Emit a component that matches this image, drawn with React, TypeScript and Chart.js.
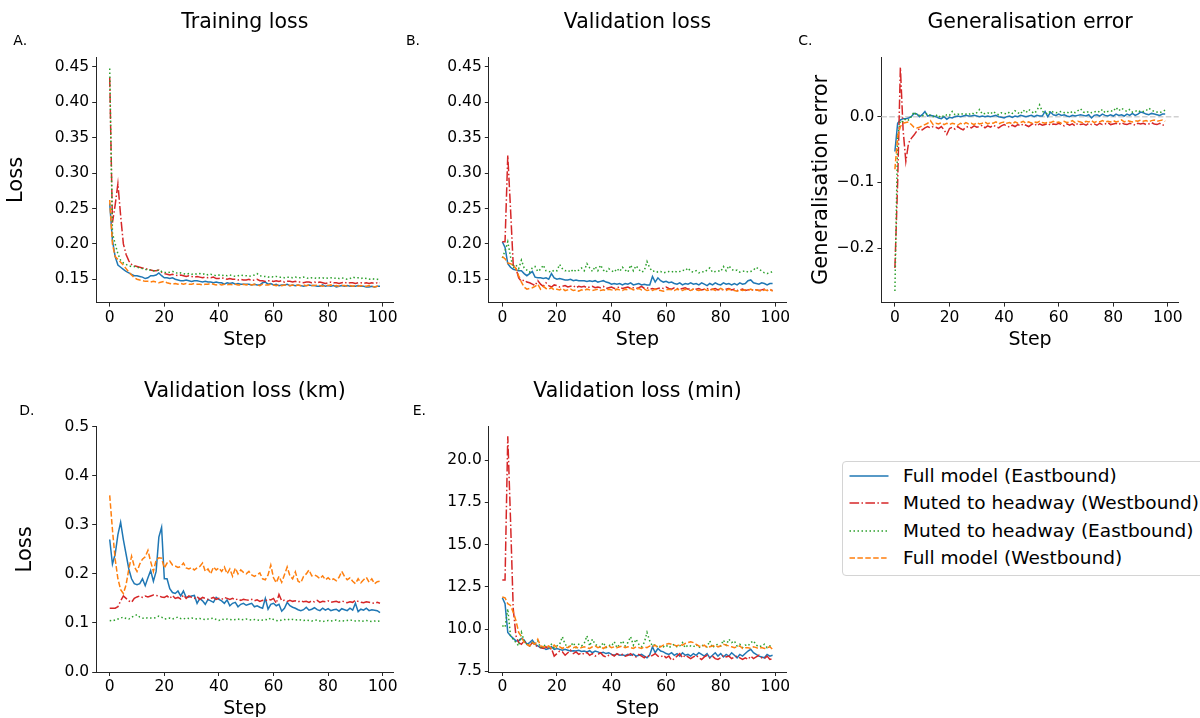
import React, { useEffect, useRef } from "react";
import { Chart, registerables } from "chart.js";

Chart.register(...registerables);
Chart.defaults.font.family = '"DejaVu Sans", sans-serif';

// ---------------- data ----------------
const STEPS = Array.from({ length: 100 }, (_, i) => i);
const SERIES_LABELS = [
  "Full model (Eastbound)",
  "Muted to headway (Westbound)",
  "Muted to headway (Eastbound)",
  "Full model (Westbound)",
];
const X_TICKS = [0, 20, 40, 60, 80, 100];
const LOSS_TICKS = [0.15, 0.2, 0.25, 0.3, 0.35, 0.4, 0.45];
const GEN_TICKS = [-0.2, -0.1, 0.0];
const KM_TICKS = [0.0, 0.1, 0.2, 0.3, 0.4, 0.5];
const MIN_TICKS = [7.5, 10.0, 12.5, 15.0, 17.5, 20.0];

// A. Training loss
const TRAIN_FULL_EAST = [
  0.257, 0.205, 0.182, 0.170, 0.167, 0.164, 0.161, 0.159, 0.157, 0.155,
  0.155, 0.154, 0.153, 0.151, 0.152, 0.155, 0.155, 0.156, 0.159, 0.155,
  0.152, 0.152, 0.151, 0.152, 0.150, 0.149, 0.148, 0.148, 0.149, 0.148,
  0.147, 0.148, 0.148, 0.147, 0.146, 0.147, 0.146, 0.146, 0.145, 0.146,
  0.145, 0.145, 0.143, 0.145, 0.144, 0.145, 0.143, 0.144, 0.143, 0.143,
  0.143, 0.143, 0.142, 0.143, 0.142, 0.142, 0.145, 0.146, 0.143, 0.144,
  0.142, 0.143, 0.141, 0.142, 0.142, 0.143, 0.141, 0.142, 0.141, 0.142,
  0.141, 0.140, 0.141, 0.142, 0.141, 0.141, 0.140, 0.140, 0.142, 0.140,
  0.141, 0.140, 0.141, 0.139, 0.140, 0.141, 0.140, 0.141, 0.140, 0.140,
  0.140, 0.141, 0.140, 0.140, 0.139, 0.139, 0.140, 0.139, 0.140, 0.140,
];
const TRAIN_MUTED_WEST = [
  0.435, 0.230, 0.255, 0.285, 0.240, 0.200, 0.185, 0.176, 0.171, 0.169,
  0.168, 0.167, 0.166, 0.165, 0.164, 0.163, 0.162, 0.162, 0.163, 0.160,
  0.158, 0.157, 0.156, 0.157, 0.156, 0.155, 0.156, 0.155, 0.154, 0.155,
  0.154, 0.153, 0.154, 0.153, 0.152, 0.153, 0.152, 0.152, 0.153, 0.151,
  0.151, 0.152, 0.151, 0.150, 0.151, 0.150, 0.150, 0.149, 0.150, 0.149,
  0.149, 0.150, 0.148, 0.149, 0.150, 0.148, 0.148, 0.147, 0.148, 0.148,
  0.147, 0.148, 0.147, 0.148, 0.146, 0.147, 0.147, 0.146, 0.147, 0.146,
  0.146, 0.145, 0.146, 0.146, 0.145, 0.146, 0.145, 0.146, 0.145, 0.144,
  0.145, 0.146, 0.145, 0.145, 0.144, 0.145, 0.146, 0.144, 0.145, 0.145,
  0.144, 0.145, 0.145, 0.144, 0.145, 0.144, 0.145, 0.144, 0.145, 0.145,
];
const TRAIN_MUTED_EAST = [
  0.448, 0.215, 0.200, 0.186, 0.177, 0.173, 0.171, 0.169, 0.168, 0.168,
  0.167, 0.166, 0.165, 0.164, 0.163, 0.163, 0.162, 0.162, 0.163, 0.161,
  0.160, 0.159, 0.160, 0.161, 0.160, 0.158, 0.159, 0.158, 0.157, 0.158,
  0.157, 0.158, 0.157, 0.158, 0.157, 0.158, 0.156, 0.157, 0.156, 0.155,
  0.156, 0.155, 0.156, 0.155, 0.156, 0.155, 0.154, 0.155, 0.156, 0.155,
  0.155, 0.154, 0.155, 0.156, 0.158, 0.155, 0.154, 0.154, 0.153, 0.154,
  0.153, 0.154, 0.153, 0.153, 0.152, 0.153, 0.153, 0.152, 0.153, 0.152,
  0.152, 0.153, 0.152, 0.151, 0.152, 0.152, 0.151, 0.152, 0.152, 0.151,
  0.152, 0.152, 0.151, 0.152, 0.151, 0.152, 0.151, 0.150, 0.151, 0.153,
  0.152, 0.152, 0.151, 0.152, 0.151, 0.150, 0.151, 0.150, 0.150, 0.149,
];
const TRAIN_FULL_WEST = [
  0.262, 0.200, 0.182, 0.178, 0.174, 0.170, 0.165, 0.160, 0.156, 0.152,
  0.150, 0.149, 0.148, 0.147, 0.147, 0.146, 0.147, 0.146, 0.145, 0.146,
  0.147, 0.145, 0.144, 0.143, 0.144, 0.143, 0.144, 0.143, 0.144, 0.143,
  0.143, 0.144, 0.143, 0.143, 0.142, 0.143, 0.143, 0.144, 0.143, 0.142,
  0.143, 0.142, 0.143, 0.142, 0.143, 0.142, 0.143, 0.142, 0.142, 0.143,
  0.142, 0.143, 0.142, 0.143, 0.142, 0.141, 0.143, 0.142, 0.142, 0.143,
  0.142, 0.141, 0.142, 0.141, 0.142, 0.142, 0.141, 0.142, 0.141, 0.142,
  0.141, 0.142, 0.141, 0.142, 0.141, 0.141, 0.142, 0.141, 0.140, 0.141,
  0.141, 0.142, 0.140, 0.141, 0.140, 0.141, 0.141, 0.140, 0.141, 0.140,
  0.141, 0.140, 0.141, 0.140, 0.140, 0.141, 0.140, 0.139, 0.140, 0.140,
];

// B. Validation loss
const VAL_FULL_EAST = [
  0.203, 0.195, 0.172, 0.167, 0.164, 0.163, 0.162, 0.162, 0.158, 0.155,
  0.158, 0.161, 0.153, 0.152, 0.152, 0.151, 0.152, 0.150, 0.158, 0.152,
  0.150, 0.151, 0.150, 0.149, 0.149, 0.150, 0.148, 0.149, 0.148, 0.148,
  0.148, 0.147, 0.148, 0.147, 0.148, 0.146, 0.147, 0.148, 0.146, 0.145,
  0.143, 0.144, 0.143, 0.144, 0.142, 0.144, 0.143, 0.145, 0.142, 0.143,
  0.144, 0.142, 0.143, 0.142, 0.142, 0.154, 0.146, 0.152, 0.148, 0.146,
  0.147, 0.145, 0.146, 0.144, 0.143, 0.145, 0.142, 0.144, 0.143, 0.145,
  0.143, 0.144, 0.142, 0.145, 0.143, 0.141, 0.144, 0.142, 0.145, 0.143,
  0.142, 0.145, 0.143, 0.144, 0.142, 0.144, 0.142, 0.145, 0.143, 0.144,
  0.148, 0.149, 0.145, 0.144, 0.143, 0.145, 0.144, 0.142, 0.144, 0.144,
];
const VAL_MUTED_WEST = [
  0.203, 0.203, 0.325, 0.250, 0.170, 0.165, 0.152, 0.147, 0.149, 0.146,
  0.145, 0.143, 0.141, 0.148, 0.143, 0.140, 0.145, 0.141, 0.139, 0.142,
  0.141, 0.139, 0.140, 0.141, 0.139, 0.140, 0.141, 0.138, 0.140, 0.139,
  0.140, 0.138, 0.139, 0.140, 0.138, 0.139, 0.138, 0.140, 0.137, 0.138,
  0.139, 0.137, 0.138, 0.139, 0.137, 0.138, 0.139, 0.137, 0.138, 0.137,
  0.138, 0.140, 0.137, 0.138, 0.136, 0.137, 0.136, 0.137, 0.138, 0.137,
  0.139, 0.137, 0.136, 0.138, 0.137, 0.136, 0.137, 0.138, 0.136, 0.137,
  0.135, 0.136, 0.137, 0.135, 0.136, 0.137, 0.135, 0.136, 0.137, 0.135,
  0.136, 0.135, 0.136, 0.137, 0.135, 0.136, 0.134, 0.135, 0.136, 0.134,
  0.135, 0.136, 0.134, 0.135, 0.134, 0.135, 0.136, 0.134, 0.135, 0.134,
];
const VAL_MUTED_EAST = [
  0.180, 0.190, 0.203, 0.182, 0.166, 0.170, 0.165, 0.177, 0.166, 0.163,
  0.160, 0.166, 0.168, 0.161, 0.164, 0.170, 0.162, 0.161, 0.160, 0.163,
  0.162, 0.171, 0.165, 0.162, 0.163, 0.160, 0.164, 0.161, 0.163, 0.166,
  0.162, 0.172, 0.166, 0.161, 0.168, 0.162, 0.170, 0.163, 0.160, 0.165,
  0.162, 0.160, 0.165, 0.161, 0.167, 0.163, 0.160, 0.170, 0.162, 0.169,
  0.164, 0.160, 0.162, 0.175, 0.166, 0.161, 0.162, 0.160, 0.161, 0.159,
  0.160, 0.161, 0.160, 0.162, 0.160, 0.161, 0.163, 0.162, 0.166, 0.161,
  0.160, 0.162, 0.159, 0.161, 0.160, 0.163, 0.166, 0.160, 0.161, 0.162,
  0.161, 0.168, 0.162, 0.169, 0.164, 0.162, 0.163, 0.160, 0.161, 0.162,
  0.160, 0.161, 0.163, 0.167, 0.164, 0.162, 0.159, 0.158, 0.159, 0.161,
];
const VAL_FULL_WEST = [
  0.182, 0.179, 0.173, 0.172, 0.170, 0.165, 0.155, 0.146, 0.139, 0.136,
  0.137, 0.138, 0.140, 0.143, 0.136, 0.140, 0.137, 0.136, 0.138, 0.135,
  0.136, 0.135, 0.137, 0.134, 0.135, 0.136, 0.134, 0.135, 0.133, 0.135,
  0.134, 0.136, 0.135, 0.134, 0.135, 0.136, 0.134, 0.135, 0.134, 0.136,
  0.135, 0.134, 0.136, 0.135, 0.134, 0.136, 0.135, 0.137, 0.135, 0.136,
  0.137, 0.135, 0.136, 0.134, 0.135, 0.134, 0.136, 0.135, 0.134, 0.133,
  0.135, 0.136, 0.135, 0.134, 0.136, 0.135, 0.134, 0.136, 0.135, 0.134,
  0.136, 0.135, 0.134, 0.135, 0.136, 0.134, 0.135, 0.136, 0.134, 0.135,
  0.137, 0.135, 0.134, 0.136, 0.135, 0.134, 0.133, 0.135, 0.134, 0.135,
  0.134, 0.136, 0.134, 0.135, 0.134, 0.133, 0.135, 0.134, 0.136, 0.133,
];

// C. Generalisation error
const GEN_FULL_EAST = [
  -0.053, -0.010, -0.005, -0.003, -0.003, -0.002, 0.000, 0.005, 0.004, 0.000,
  0.003, 0.008, 0.001, 0.002, 0.001, 0.000, -0.002, -0.003, 0.000, -0.004,
  -0.001, -0.002, 0.000, 0.001, 0.000, 0.001, 0.002, 0.001, 0.001, 0.002,
  0.001, 0.000, 0.001, 0.000, 0.001, 0.000, 0.001, 0.002, 0.000, -0.001,
  -0.002, 0.000, 0.001, -0.001, 0.001, 0.000, 0.002, 0.001, 0.000, 0.001,
  0.002, 0.000, 0.002, 0.001, 0.001, 0.008, 0.000, 0.007, 0.003, 0.002,
  0.004, 0.002, 0.003, 0.001, 0.000, 0.002, 0.001, 0.002, 0.003, 0.002,
  0.001, 0.003, -0.002, 0.002, 0.003, 0.001, 0.004, 0.002, 0.001, 0.003,
  0.001, 0.004, 0.002, 0.003, 0.001, 0.004, 0.002, 0.005, 0.002, 0.004,
  0.007, 0.006, 0.004, 0.003, 0.005, 0.004, 0.003, 0.002, 0.004, 0.004,
];
const GEN_MUTED_WEST = [
  -0.230, -0.100, 0.075, -0.020, -0.068, -0.040, -0.033, -0.028, -0.022, -0.018,
  -0.020, -0.017, -0.015, -0.017, -0.015, -0.016, -0.018, -0.015, -0.020, -0.027,
  -0.018, -0.016, -0.019, -0.015, -0.018, -0.020, -0.016, -0.015, -0.017, -0.014,
  -0.016, -0.015, -0.013, -0.017, -0.014, -0.016, -0.013, -0.015, -0.017, -0.014,
  -0.012, -0.014, -0.016, -0.013, -0.015, -0.012, -0.014, -0.011, -0.013, -0.015,
  -0.012, -0.010, -0.014, -0.011, -0.013, -0.012, -0.010, -0.013, -0.011, -0.012,
  -0.010, -0.012, -0.014, -0.011, -0.013, -0.011, -0.014, -0.010, -0.012, -0.011,
  -0.013, -0.010, -0.012, -0.011, -0.013, -0.010, -0.012, -0.011, -0.009, -0.012,
  -0.011, -0.010, -0.012, -0.009, -0.011, -0.012, -0.010, -0.011, -0.013, -0.010,
  -0.011, -0.010, -0.012, -0.011, -0.009, -0.011, -0.012, -0.010, -0.013, -0.012,
];
const GEN_MUTED_EAST = [
  -0.265, -0.030, -0.006, -0.008, -0.003, -0.005, 0.000, 0.007, 0.003, 0.002,
  0.001, 0.003, 0.005, 0.002, 0.000, 0.003, -0.001, 0.002, 0.000, 0.003,
  0.002, 0.008, 0.003, 0.004, 0.003, 0.005, 0.004, 0.003, 0.006, 0.004,
  0.006, 0.011, 0.004, 0.005, 0.006, 0.004, 0.008, 0.005, 0.003, 0.006,
  0.005, 0.004, 0.007, 0.005, 0.009, 0.006, 0.004, 0.010, 0.006, 0.011,
  0.008, 0.005, 0.009, 0.018, 0.008, 0.006, 0.004, 0.009, 0.007, 0.006,
  0.007, 0.008, 0.006, 0.007, 0.005, 0.008, 0.006, 0.009, 0.012, 0.007,
  0.006, 0.008, 0.006, 0.007, 0.009, 0.007, 0.011, 0.006, 0.008, 0.009,
  0.008, 0.014, 0.009, 0.013, 0.010, 0.008, 0.011, 0.007, 0.008, 0.010,
  0.007, 0.008, 0.009, 0.013, 0.010, 0.008, 0.007, 0.006, 0.008, 0.010,
];
const GEN_FULL_WEST = [
  -0.080, -0.030, -0.015, -0.010, -0.009, -0.008, -0.012, -0.016, -0.017, -0.016,
  -0.014, -0.012, -0.010, -0.006, -0.012, -0.010, -0.011, -0.009, -0.012, -0.010,
  -0.012, -0.010, -0.011, -0.013, -0.010, -0.012, -0.009, -0.011, -0.010, -0.012,
  -0.009, -0.011, -0.010, -0.008, -0.011, -0.009, -0.010, -0.008, -0.011, -0.009,
  -0.008, -0.010, -0.009, -0.011, -0.008, -0.010, -0.009, -0.007, -0.010, -0.008,
  -0.010, -0.008, -0.009, -0.007, -0.009, -0.010, -0.008, -0.009, -0.007, -0.009,
  -0.008, -0.010, -0.007, -0.009, -0.008, -0.006, -0.009, -0.007, -0.008, -0.010,
  -0.007, -0.008, -0.006, -0.009, -0.007, -0.008, -0.006, -0.008, -0.007, -0.008,
  -0.006, -0.008, -0.007, -0.005, -0.008, -0.006, -0.007, -0.008, -0.006, -0.007,
  -0.005, -0.007, -0.006, -0.008, -0.006, -0.005, -0.007, -0.006, -0.005, -0.007,
];

// D. Validation loss (km)
const KM_FULL_EAST = [
  0.270, 0.220, 0.240, 0.280, 0.305, 0.270, 0.240, 0.210, 0.190, 0.180,
  0.178, 0.180, 0.190, 0.176, 0.192, 0.207, 0.185, 0.205, 0.275, 0.295,
  0.190, 0.190, 0.170, 0.162, 0.160, 0.165, 0.155, 0.165, 0.152, 0.153,
  0.155, 0.156, 0.140, 0.150, 0.145, 0.138, 0.148, 0.145, 0.142, 0.152,
  0.148, 0.145, 0.140, 0.147, 0.135, 0.140, 0.142, 0.133, 0.138, 0.140,
  0.136, 0.138, 0.140, 0.133, 0.135, 0.132, 0.130, 0.150, 0.128, 0.138,
  0.140, 0.135, 0.138, 0.124, 0.130, 0.142, 0.135, 0.132, 0.130, 0.127,
  0.125, 0.127, 0.132, 0.126, 0.128, 0.131, 0.127, 0.125, 0.130, 0.126,
  0.129, 0.125, 0.127, 0.128, 0.124, 0.129, 0.127, 0.125, 0.130, 0.126,
  0.140, 0.123, 0.128, 0.126, 0.130, 0.125, 0.127, 0.126, 0.125, 0.121,
];
const KM_MUTED_WEST = [
  0.130, 0.130, 0.130, 0.133, 0.145, 0.155, 0.150, 0.145, 0.142, 0.150,
  0.153, 0.155, 0.152, 0.155, 0.153, 0.155, 0.157, 0.156, 0.155, 0.153,
  0.152, 0.155, 0.150, 0.156, 0.150, 0.152, 0.149, 0.157, 0.150, 0.155,
  0.152, 0.150, 0.154, 0.148, 0.152, 0.150, 0.148, 0.150, 0.152, 0.148,
  0.150, 0.148, 0.152, 0.150, 0.148, 0.150, 0.147, 0.149, 0.146, 0.148,
  0.147, 0.146, 0.148, 0.145, 0.147, 0.144, 0.146, 0.145, 0.148, 0.147,
  0.150, 0.140, 0.158, 0.145, 0.146, 0.144, 0.146, 0.144, 0.145, 0.143,
  0.145, 0.143, 0.144, 0.142, 0.145, 0.143, 0.146, 0.142, 0.144, 0.143,
  0.145, 0.142, 0.143, 0.144, 0.142, 0.145, 0.143, 0.141, 0.143, 0.142,
  0.146, 0.144, 0.142, 0.141, 0.143, 0.142, 0.141, 0.140, 0.142, 0.140,
];
const KM_MUTED_EAST = [
  0.105, 0.104, 0.106, 0.108, 0.110, 0.112, 0.109, 0.108, 0.112, 0.114,
  0.117, 0.112, 0.110, 0.109, 0.111, 0.110, 0.110, 0.111, 0.114, 0.112,
  0.108, 0.109, 0.110, 0.108, 0.110, 0.112, 0.109, 0.108, 0.110, 0.109,
  0.110, 0.109, 0.108, 0.109, 0.108, 0.107, 0.108, 0.109, 0.110, 0.107,
  0.105, 0.108, 0.107, 0.108, 0.107, 0.106, 0.107, 0.108, 0.106, 0.107,
  0.108, 0.107, 0.106, 0.107, 0.106, 0.105, 0.106, 0.107, 0.106, 0.110,
  0.107, 0.105, 0.104, 0.106, 0.107, 0.106, 0.108, 0.107, 0.106, 0.107,
  0.106, 0.105, 0.106, 0.105, 0.104, 0.105, 0.106, 0.104, 0.103, 0.104,
  0.105, 0.104, 0.105, 0.106, 0.104, 0.105, 0.104, 0.105, 0.106, 0.105,
  0.104, 0.105, 0.103, 0.104, 0.105, 0.104, 0.103, 0.104, 0.103, 0.104,
];
const KM_FULL_WEST = [
  0.360, 0.290, 0.230, 0.190, 0.168, 0.160, 0.178, 0.210, 0.236, 0.215,
  0.205, 0.220, 0.230, 0.235, 0.248, 0.225, 0.205, 0.228, 0.233, 0.232,
  0.212, 0.222, 0.226, 0.218, 0.216, 0.213, 0.215, 0.222, 0.212, 0.210,
  0.213, 0.208, 0.212, 0.215, 0.222, 0.205, 0.210, 0.200, 0.214, 0.208,
  0.212, 0.205, 0.214, 0.200, 0.210, 0.195, 0.212, 0.200, 0.208, 0.203,
  0.200, 0.205, 0.198, 0.195, 0.198, 0.202, 0.190, 0.188, 0.198, 0.218,
  0.192, 0.182, 0.195, 0.183, 0.198, 0.214, 0.196, 0.190, 0.204, 0.185,
  0.182, 0.195, 0.200, 0.208, 0.196, 0.198, 0.195, 0.190, 0.196, 0.188,
  0.192, 0.187, 0.190, 0.186, 0.193, 0.205, 0.195, 0.188, 0.192, 0.185,
  0.180, 0.190, 0.182, 0.188, 0.193, 0.183, 0.190, 0.180, 0.184, 0.185,
];

// E. Validation loss (min)
const MIN_FULL_EAST = [
  11.85, 11.50, 9.80, 9.60, 9.45, 9.30, 9.30, 9.45, 9.35, 9.10,
  9.20, 9.35, 9.10, 9.00, 8.90, 8.90, 8.80, 8.85, 8.95, 8.80,
  8.85, 8.80, 8.75, 8.80, 8.75, 8.70, 8.72, 8.70, 8.75, 8.68,
  8.70, 8.65, 8.72, 8.60, 8.70, 8.65, 8.58, 8.62, 8.55, 8.60,
  8.50, 8.45, 8.52, 8.45, 8.48, 8.42, 8.50, 8.45, 8.52, 8.40,
  8.45, 8.50, 8.40, 8.30, 8.48, 8.95, 8.60, 8.85, 8.70, 8.65,
  8.55, 8.50, 8.60, 8.45, 8.55, 8.40, 8.60, 8.45, 8.50, 8.40,
  8.55, 8.45, 8.60, 8.50, 8.40, 8.55, 8.30, 8.45, 8.60, 8.40,
  8.55, 8.35, 8.50, 8.40, 8.60, 8.45, 8.30, 8.50, 8.40, 8.55,
  8.70, 8.80, 8.60, 8.50, 8.40, 8.35, 8.30, 8.50, 8.40, 8.45,
];
const MIN_MUTED_WEST = [
  12.90, 12.90, 21.40, 16.50, 11.20, 9.60, 9.20, 9.10, 9.30, 9.10,
  9.00, 9.20, 9.05, 8.95, 8.90, 8.85, 8.95, 8.80, 8.85, 8.40,
  8.55, 8.70, 8.65, 8.45, 8.60, 8.75, 8.55, 8.65, 8.50, 8.60,
  8.50, 8.62, 8.45, 8.55, 8.40, 8.50, 8.60, 8.42, 8.35, 8.45,
  8.50, 8.40, 8.55, 8.45, 8.50, 8.40, 8.45, 8.55, 8.40, 8.35,
  8.50, 8.40, 8.30, 8.45, 8.35, 8.45, 8.55, 8.40, 8.35, 8.45,
  8.30, 8.40, 8.15, 8.25, 8.40, 8.55, 8.30, 8.45, 8.35, 8.25,
  8.35, 8.45, 8.30, 8.20, 8.35, 8.45, 8.30, 8.40, 8.25, 8.20,
  8.30, 8.45, 8.35, 8.40, 8.25, 8.35, 8.40, 8.30, 8.20, 8.30,
  8.20, 8.40, 8.25, 8.35, 8.45, 8.30, 8.25, 8.40, 8.20, 8.25,
];
const MIN_MUTED_EAST = [
  10.20, 10.10, 11.20, 9.60, 9.40, 9.20, 9.00, 9.80, 9.30, 9.10,
  9.00, 9.20, 9.10, 9.30, 8.90, 9.05, 9.00, 8.95, 9.10, 8.90,
  9.00, 9.10, 9.55, 9.10, 8.95, 9.00, 9.20, 8.90, 9.10, 9.00,
  9.15, 9.60, 9.00, 9.40, 9.10, 9.00, 8.95, 9.20, 8.90, 9.05,
  9.00, 9.25, 8.90, 9.10, 9.30, 9.00, 9.20, 9.55, 9.05, 9.40,
  9.10, 8.95, 9.20, 9.80, 9.30, 9.00, 9.10, 8.90, 9.00, 8.95,
  9.05, 8.90, 9.00, 9.10, 8.95, 9.00, 9.20, 8.90, 9.05, 9.00,
  8.95, 9.10, 8.90, 9.05, 9.00, 8.95, 9.30, 8.90, 9.05, 9.10,
  9.00, 9.35, 9.05, 9.40, 9.20, 9.30, 9.00, 9.10, 8.90, 9.05,
  9.00, 9.20, 9.30, 9.05, 8.95, 9.00, 9.10, 8.90, 9.00, 9.05,
];
const MIN_FULL_WEST = [
  11.90, 11.85, 11.50, 11.40, 11.00, 10.50, 9.80, 9.55, 9.20, 9.10,
  9.00, 9.20, 9.10, 9.40, 9.00, 8.95, 8.90, 9.00, 8.85, 9.05,
  8.90, 8.95, 8.85, 8.95, 8.90, 9.00, 8.90, 8.95, 8.85, 8.90,
  8.95, 8.90, 8.85, 8.95, 9.00, 8.90, 8.95, 8.85, 8.95, 9.00,
  8.90, 8.95, 8.90, 8.95, 9.00, 8.90, 8.95, 8.90, 8.85, 8.95,
  8.90, 8.85, 8.95, 8.90, 9.00, 8.95, 9.05, 8.90, 8.95, 9.05,
  9.10, 9.15, 9.10, 9.05, 9.00, 9.10, 9.05, 9.15, 9.20, 9.25,
  9.20, 9.10, 9.00, 8.95, 9.05, 8.90, 8.95, 9.00, 9.05, 8.95,
  9.00, 9.10, 9.05, 9.00, 8.95, 8.90, 8.95, 9.00, 8.85, 8.90,
  8.90, 8.85, 8.95, 8.90, 8.85, 8.90, 8.85, 8.90, 8.95, 8.80,
];

// ---------------- styling ----------------
const COLORS = ["#1f77b4", "#d62728", "#2ca02c", "#ff7f0e"];
const DASHES: number[][] = [[], [9.6, 2.4, 1.5, 2.4], [1.5, 2.5], [5.5, 2.4]];
const ORDERS = [3, 2, 1, 0];
const FONT = '"DejaVu Sans", sans-serif';
const AXIS_COLOR = "#262626";

const CHART_W = 297.3;
const CHART_H = 245.3;
const X_AXIS_H = 45;
const CANVAS_W = 410;
const CANVAS_H = 348;

type PanelCfg = {
  left: number;
  top: number;
  padTop: number;
  yw: number;
  title: string;
  letter: string;
  letterX: number;
  letterY: number;
  titleY: number;
  series: number[][];
  yMin: number;
  yMax: number;
  yTicks: number[];
  yFmt: (v: number) => string;
  yLabel?: string;
  yLabelPad?: number;
  zeroLine?: boolean;
};

const fmt2 = (v: number) => v.toFixed(2);
const fmt1 = (v: number) => v.toFixed(1).replace("-", "\u2212");

const PANELS: PanelCfg[] = [
  {
    left: 0, top: 0, padTop: 57.3, yw: 96.2, title: "Training loss", letter: "A.",
    letterX: 13.3, letterY: 45, titleY: 28,
    series: [TRAIN_FULL_EAST, TRAIN_MUTED_WEST, TRAIN_MUTED_EAST, TRAIN_FULL_WEST],
    yMin: 0.117, yMax: 0.4637, yTicks: LOSS_TICKS, yFmt: fmt2, yLabel: "Loss", yLabelPad: 3.5,
  },
  {
    left: 392, top: 0, padTop: 57.3, yw: 96.8, title: "Validation loss", letter: "B.",
    letterX: 14, letterY: 45, titleY: 28,
    series: [VAL_FULL_EAST, VAL_MUTED_WEST, VAL_MUTED_EAST, VAL_FULL_WEST],
    yMin: 0.117, yMax: 0.4637, yTicks: LOSS_TICKS, yFmt: fmt2,
  },
  {
    left: 785, top: 0, padTop: 57.3, yw: 96.4, title: "Generalisation error", letter: "C.",
    letterX: 13.3, letterY: 45, titleY: 28,
    series: [GEN_FULL_EAST, GEN_MUTED_WEST, GEN_MUTED_EAST, GEN_FULL_WEST],
    yMin: -0.2827, yMax: 0.0903, yTicks: GEN_TICKS, yFmt: fmt1,
    yLabel: "Generalisation error", yLabelPad: 24, zeroLine: true,
  },
  {
    left: 0, top: 369, padTop: 57.7, yw: 96.2, title: "Validation loss (km)", letter: "D.",
    letterX: 19.3, letterY: 45.5, titleY: 28,
    series: [KM_FULL_EAST, KM_MUTED_WEST, KM_MUTED_EAST, KM_FULL_WEST],
    yMin: 0, yMax: 0.5, yTicks: KM_TICKS, yFmt: fmt1, yLabel: "Loss", yLabelPad: 13,
  },
  {
    left: 392, top: 369, padTop: 57.7, yw: 96.8, title: "Validation loss (min)", letter: "E.",
    letterX: 20.7, letterY: 45.5, titleY: 28,
    series: [MIN_FULL_EAST, MIN_MUTED_WEST, MIN_MUTED_EAST, MIN_FULL_WEST],
    yMin: 7.46, yMax: 21.97, yTicks: MIN_TICKS, yFmt: fmt1,
  },
];

const textPlugin = {
  id: "panelText",
  afterDraw(chart: any, _args: any, opts: any) {
    const { ctx, chartArea } = chart;
    ctx.save();
    ctx.fillStyle = "#000";
    ctx.textBaseline = "alphabetic";
    ctx.textAlign = "center";
    ctx.font = `20.5px ${FONT}`;
    ctx.fillText(opts.title, (chartArea.left + chartArea.right) / 2, opts.titleY);
    ctx.textAlign = "left";
    ctx.font = `14px ${FONT}`;
    ctx.fillText(opts.letter, opts.letterX, opts.letterY);
    ctx.restore();
  },
};

const zeroLinePlugin = {
  id: "zeroLine",
  beforeDatasetsDraw(chart: any, _args: any, opts: any) {
    if (!opts.show) return;
    const { ctx, chartArea, scales } = chart;
    const y = scales.y.getPixelForValue(0);
    ctx.save();
    ctx.strokeStyle = "#d0d0d0";
    ctx.lineWidth = 1.5;
    ctx.setLineDash([5.5, 2.4]);
    ctx.beginPath();
    ctx.moveTo(chartArea.left, y);
    ctx.lineTo(chartArea.right, y);
    ctx.stroke();
    ctx.restore();
  },
};

function Panel({ cfg }: { cfg: PanelCfg }) {
  const ref = useRef<HTMLCanvasElement | null>(null);
  useEffect(() => {
    if (!ref.current) return;
    const padRight = CANVAS_W - cfg.yw - CHART_W;
    const padBottom = CANVAS_H - cfg.padTop - CHART_H - X_AXIS_H;
    const datasets = cfg.series.map((vals, i) => ({
      label: SERIES_LABELS[i],
      data: STEPS.map((s, j) => ({ x: s, y: vals[j] })),
      borderColor: COLORS[i],
      backgroundColor: COLORS[i],
      borderWidth: 1.5,
      borderDash: DASHES[i],
      pointRadius: 0,
      tension: 0,
      fill: false,
      order: ORDERS[i],
    }));
    const axisCommon = {
      grid: { display: true, drawOnChartArea: false, drawTicks: true, tickLength: 4, color: AXIS_COLOR, lineWidth: 1 },
      border: { display: true, color: AXIS_COLOR, width: 1 },
    };
    const chart = new Chart(ref.current, {
      type: "line",
      data: { datasets },
      plugins: [textPlugin, zeroLinePlugin],
      options: {
        animation: false,
        responsive: false,
        devicePixelRatio: 1,
        events: [],
        layout: { padding: { top: cfg.padTop, left: 0, right: padRight, bottom: padBottom } },
        plugins: {
          legend: { display: false },
          tooltip: { enabled: false },
          title: { display: false },
          panelText: { title: cfg.title, titleY: cfg.titleY, letter: cfg.letter, letterX: cfg.letterX, letterY: cfg.letterY },
          zeroLine: { show: !!cfg.zeroLine },
        } as any,
        scales: {
          x: {
            type: "linear",
            min: -4.95,
            max: 103.95,
            ...axisCommon,
            afterBuildTicks: (s: any) => { s.ticks = X_TICKS.map((v) => ({ value: v })); },
            afterFit: (s: any) => { s.height = X_AXIS_H; },
            ticks: { color: "#000", font: { size: 15.5, family: FONT }, padding: 2, maxRotation: 0, autoSkip: false, callback: (v: any) => String(v) },
            title: { display: true, text: "Step", color: "#000", font: { size: 19, family: FONT }, padding: { top: 0, bottom: -3.5 } },
          },
          y: {
            type: "linear",
            min: cfg.yMin,
            max: cfg.yMax,
            ...axisCommon,
            afterBuildTicks: (s: any) => { s.ticks = cfg.yTicks.map((v) => ({ value: v })); },
            afterFit: (s: any) => { s.width = cfg.yw; },
            ticks: { color: "#000", font: { size: 15.5, family: FONT }, padding: 3, autoSkip: false, callback: (v: any) => cfg.yFmt(Number(v)) },
            title: {
              display: !!cfg.yLabel,
              text: cfg.yLabel || "",
              color: "#000",
              font: { size: 21, family: FONT },
              padding: { top: cfg.yLabelPad || 0, bottom: 0 },
            },
          },
        } as any,
      },
    });
    return () => chart.destroy();
  }, [cfg]);
  return (
    <canvas
      ref={ref}
      width={CANVAS_W}
      height={CANVAS_H}
      style={{ position: "absolute", left: cfg.left, top: cfg.top, width: CANVAS_W, height: CANVAS_H }}
    />
  );
}

function LegendBox() {
  const rows = [14, 41.7, 69, 96.7];
  const dashArr = ["", "9.6 2.4 1.5 2.4", "1.5 2.5", "5.5 2.4"];
  return (
    <div
      style={{
        position: "absolute",
        left: 842,
        top: 460.5,
        width: 400,
        height: 115,
        boxSizing: "border-box",
        border: "1px solid #d4d4d4",
        borderRadius: 4,
        background: "#fff",
        fontFamily: FONT,
        fontSize: 18.5,
        color: "#000",
      }}
    >
      {SERIES_LABELS.map((lab, i) => (
        <div key={lab} style={{ position: "absolute", left: 0, top: rows[i] - 14, height: 28, width: 400 }}>
          <svg width={50} height={28} style={{ position: "absolute", left: 0, top: 0 }}>
            <line
              x1={6.5}
              y1={14}
              x2={45.5}
              y2={14}
              stroke={COLORS[i]}
              strokeWidth={1.5}
              strokeDasharray={dashArr[i] || undefined}
            />
          </svg>
          <div style={{ position: "absolute", left: 60, top: 0, lineHeight: "28px", whiteSpace: "nowrap" }}>{lab}</div>
        </div>
      ))}
    </div>
  );
}

export default function App() {
  return (
    <div
      style={{
        position: "absolute",
        left: 0,
        top: 0,
        width: 1200,
        height: 718,
        overflow: "hidden",
        background: "#fff",
      }}
    >
      {PANELS.map((p) => (
        <Panel key={p.letter} cfg={p} />
      ))}
      <LegendBox />
    </div>
  );
}
